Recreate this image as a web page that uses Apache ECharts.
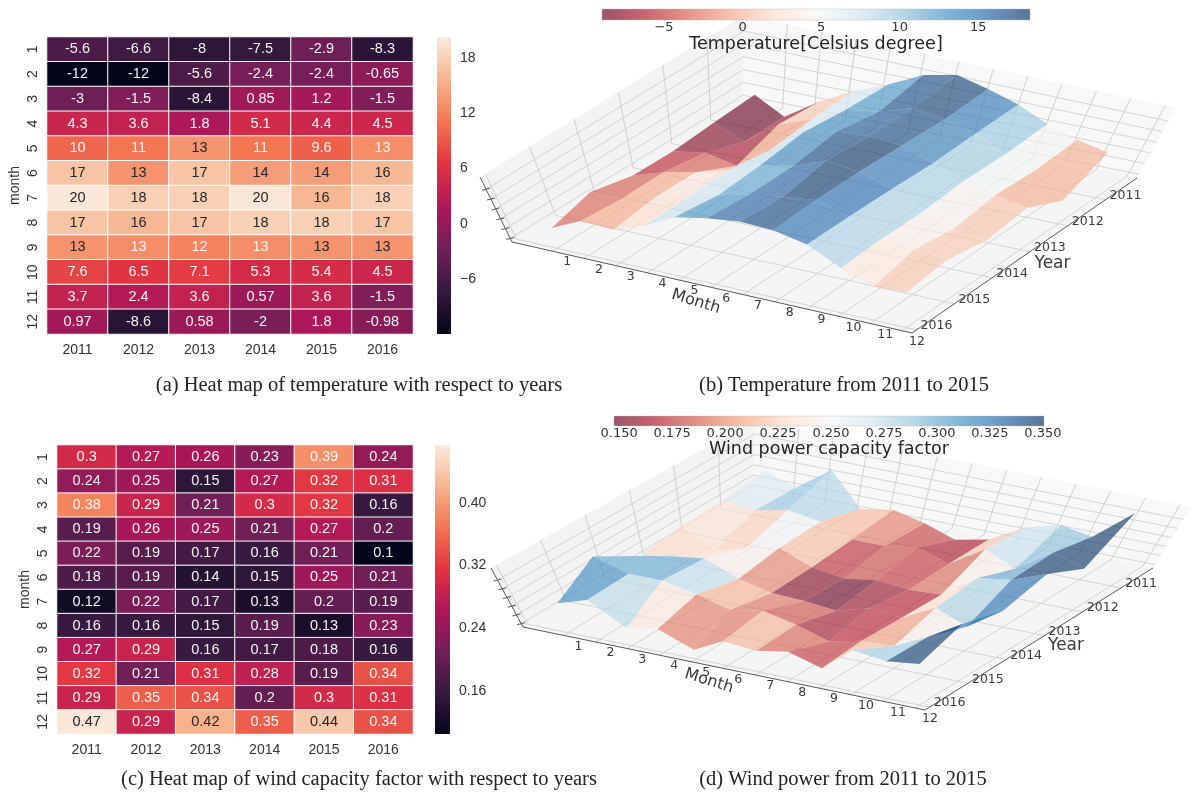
<!DOCTYPE html>
<html><head><meta charset="utf-8">
<style>html,body{margin:0;padding:0;background:#fff}#c{width:1193px;height:792px}</style>
<script src="https://cdn.jsdelivr.net/npm/echarts@6/dist/echarts.min.js"></script>
</head><body><div id="c"></div>
<script>
const months = ['1','2','3','4','5','6','7','8','9','10','11','12'];
const years = ['2011','2012','2013','2014','2015','2016'];
const temperature = [
  [-5.6,-6.6,-8,-7.5,-2.9,-8.3],
  [-12,-12,-5.6,-2.4,-2.4,-0.65],
  [-3,-1.5,-8.4,0.85,1.2,-1.5],
  [4.3,3.6,1.8,5.1,4.4,4.5],
  [10,11,13.4,11,9.6,12.8],
  [17,13.2,17,14,14,16],
  [20,18,18,20,16,18],
  [17,16,17,18,18,17],
  [13.2,12.8,12,12.8,13.2,13.2],
  [7.6,6.5,7.1,5.3,5.4,4.5],
  [3.7,2.4,3.6,0.57,3.6,-1.5],
  [0.97,-8.6,0.58,-2,1.8,-0.98]
];
const wind = [
  [0.3,0.27,0.26,0.23,0.39,0.24],
  [0.24,0.25,0.15,0.27,0.32,0.31],
  [0.38,0.29,0.21,0.3,0.32,0.16],
  [0.19,0.26,0.25,0.21,0.27,0.2],
  [0.22,0.19,0.17,0.16,0.21,0.1],
  [0.18,0.19,0.14,0.15,0.25,0.21],
  [0.12,0.22,0.17,0.13,0.2,0.19],
  [0.16,0.16,0.15,0.19,0.13,0.23],
  [0.27,0.29,0.16,0.17,0.18,0.16],
  [0.32,0.21,0.31,0.28,0.19,0.34],
  [0.29,0.35,0.34,0.2,0.3,0.31],
  [0.47,0.29,0.42,0.35,0.44,0.34]
];
const tempHeatTicks = [-6,0,6,12,18];
const windHeatTicks = [0.16,0.24,0.32,0.40];
const tempBarTicks = [-5,0,5,10,15];
const windBarTicks = [0.15,0.175,0.2,0.225,0.25,0.275,0.3,0.325,0.35];
const captions = [
  ['(a) Heat map of temperature with respect to years', 359, 386],
  ['(b) Temperature from 2011 to 2015', 844, 386],
  ['(c) Heat map of wind capacity factor with respect to years', 359, 780],
  ['(d) Wind power from 2011 to 2015', 843, 780]
];

const rocket = ['#03051a','#35193e','#701f57','#ad1759','#e13342','#f37651','#f6b48f','#faebdd'];
const rdbu = ['#67001f','#b2182b','#d6604d','#f4a582','#fddbc7','#f7f7f7','#d1e5f0','#92c5de','#4393c3','#2166ac','#053061'];
const surfAlpha = 0.62;
const sans = '"Liberation Sans",Arial,sans-serif';
const dv = '"DejaVu Sans",sans-serif';

function hex(c){return [1,3,5].map(i=>parseInt(c.substr(i,2),16));}
function ramp(stops,f){
  f=Math.max(0,Math.min(1,f))*(stops.length-1);
  const i=Math.min(stops.length-2,Math.floor(f)),a=hex(stops[i]),b=hex(stops[i+1]),k=f-i;
  return a.map((x,n)=>Math.round(x+(b[n]-x)*k));
}
const gradStops=s=>s.map((c,i)=>({offset:i/(s.length-1),color:c}));

// ---------- 3D panels: a bilinear projection of (month, year, value) ----------
const panelB = {
  data: temperature, vmin:-8.95, vmax:18.3, zMin:-19.3, zMax:13.7,
  floor:{L:[512,242],F:[912,333],R:[1137,178],B:[743,100]},
  surf:{L:[-18,-60],F:[0,-63],R:[23,-75],B:[14,-84]},
  wall:{L:[-32,-65],F:[9,-63],R:[39,-70],B:[1,-85]},
  zTicks:[-17.5,-12.5,-7.5,-2.5,2.5,7.5],
  monthTitle:[-4,17], yearTitle:[28,8]
};
const panelD = {
  data: wind, vmin:0.1476, vmax:0.3505, zMin:0.035, zMax:0.475,
  floor:{L:[523,627],F:[925,710],R:[1153,568],B:[753,489]},
  surf:{L:[-26,-63],F:[0,-59],R:[29,-76],B:[8,-78]},
  wall:{L:[-32,-59],F:[9,-55],R:[38,-61],B:[2,-69]},
  zTicks:[0.06,0.125,0.19,0.255,0.32,0.385],
  monthTitle:[-3,15], yearTitle:[27,7]
};
const uOf=m=>0.975-0.0795*(11-m);      // m = month index 0..11
const vOf=y=>0.02+0.168*(5-y);         // y = year index 0..5
function bil(q,u,v,n){return (1-v)*((1-u)*q.L[n]+u*q.F[n])+v*((1-u)*q.B[n]+u*q.R[n]);}
function proj(P,u,v,t,vec){
  return [bil(P.floor,u,v,0)+t*bil(vec,u,v,0), bil(P.floor,u,v,1)+t*bil(vec,u,v,1)];
}
function quads(P){
  const out=[];
  for(let m=0;m<11;m++)for(let y=0;y<5;y++)out.push([m,y]);
  out.sort((a,b)=>((1-uOf(a[0]))+vOf(a[1]))<((1-uOf(b[0]))+vOf(b[1]))?1:-1);
  return out;
}
function surfaceSeries(P){
  return {type:'custom',coordinateSystem:'cartesian2d',xAxisIndex:0,yAxisIndex:0,silent:true,z:3,clip:false,
    data:quads(P),
    renderItem(params,api){
      const m=api.value(0),y=api.value(1),d=P.data;
      const corners=[[m,y],[m+1,y],[m+1,y+1],[m,y+1]];
      let sum=0;
      const pts=corners.map(([a,b])=>{
        sum+=d[a][b];
        const t=(d[a][b]-P.zMin)/(P.zMax-P.zMin);
        return api.coord(proj(P,uOf(a),vOf(b),t,P.surf));
      });
      const c=ramp(rdbu,(sum/4-P.vmin)/(P.vmax-P.vmin));
      return {type:'polygon',shape:{points:pts},style:{fill:`rgba(${c[0]},${c[1]},${c[2]},${surfAlpha})`,stroke:null}};
    }};
}
function wallSeries(P){
  return {type:'custom',coordinateSystem:'cartesian2d',xAxisIndex:0,yAxisIndex:0,silent:true,z:1,clip:false,
    data:[[0,0]],
    renderItem(params,api){
      const ch=[];
      const w=(u,v,t)=>api.coord(proj(P,u,v,t,P.wall));
      const poly=(pts,fill)=>ch.push({type:'polygon',shape:{points:pts},style:{fill}});
      const line=(a,b,col,lw)=>ch.push({type:'line',shape:{x1:a[0],y1:a[1],x2:b[0],y2:b[1]},style:{stroke:col,lineWidth:lw}});
      const text=(s,p,font,rot)=>ch.push({type:'text',x:p[0],y:p[1],rotation:rot||0,
        style:{text:s,font,fill:'#3a3a3a',align:'center',verticalAlign:'middle'}});
      poly([w(0,0,0),w(1,0,0),w(1,1,0),w(0,1,0)],'#f5f5f5');
      poly([w(0,0,0),w(0,1,0),w(0,1,1),w(0,0,1)],'#f3f3f3');
      poly([w(0,1,0),w(1,1,0),w(1,1,1),w(0,1,1)],'#f8f8f8');
      const gc='#cbcbcb';
      months.forEach((_,m)=>{const u=uOf(m);line(w(u,0,0),w(u,1,0),gc,0.8);line(w(u,1,0),w(u,1,1),gc,0.9);});
      years.forEach((_,y)=>{const v=vOf(y);line(w(0,v,0),w(1,v,0),gc,0.8);line(w(0,v,0),w(0,v,1),gc,0.9);});
      P.zTicks.forEach(z=>{
        const t=(z-P.zMin)/(P.zMax-P.zMin);
        line(w(0,0,t),w(0,1,t),gc,0.8);line(w(0,1,t),w(1,1,t),gc,0.8);
        const a=w(0,0,t);line([a[0]-4,a[1]+1],[a[0]+4,a[1]-1],'#444',0.9);
      });
      const ax='#5a5a5a';
      line(w(0,0,0),w(1,0,0),ax,1);line(w(1,0,0),w(1,1,0),ax,1);line(w(0,0,0),w(0,0,1),ax,1);
      const off=(p,d)=>[p[0]+d[0],p[1]+d[1]];
      months.forEach((s,m)=>text(s,off(w(uOf(m),0,0),[15,11]),'12.5px '+dv));
      years.forEach((s,y)=>text(s,off(w(1,vOf(y),0),[20,-4]),'12.5px '+dv));
      text('Month',off(w(0.47,0,0),P.monthTitle),'16px '+dv,-0.3);
      text('Year',off(w(1,0.5,0),P.yearTitle),'17px '+dv);
      return {type:'group',children:ch};
    }};
}

// ---------- colour bars ----------
function vBar(g,min,max,stops){
  return {type:'custom',xAxisIndex:g,yAxisIndex:g,coordinateSystem:'cartesian2d',silent:true,clip:false,data:[[0,min]],
    renderItem(params,api){
      const a=api.coord([0,max]),b=api.coord([1,min]);
      return {type:'rect',shape:{x:a[0],y:a[1],width:b[0]-a[0],height:b[1]-a[1]},
        style:{fill:new echarts.graphic.LinearGradient(0,1,0,0,gradStops(stops))}};
    }};
}
function hBar(g,min,max,stops){
  return {type:'custom',xAxisIndex:g,yAxisIndex:g,coordinateSystem:'cartesian2d',silent:true,clip:false,z:8,data:[[min,0]],
    renderItem(params,api){
      const a=api.coord([min,1]),b=api.coord([max,0]);
      return {type:'group',children:[
        {type:'rect',shape:{x:a[0],y:a[1],width:b[0]-a[0],height:b[1]-a[1]},style:{fill:'#fff'}},
        {type:'rect',shape:{x:a[0],y:a[1],width:b[0]-a[0],height:b[1]-a[1]},
         style:{fill:new echarts.graphic.LinearGradient(0,0,1,0,gradStops(stops)),opacity:surfAlpha+0.05,stroke:'#bbb',lineWidth:0.6}}
      ]};
    }};
}

// ---------- heat maps ----------
function cells(d,thr){
  const out=[];
  d.forEach((row,m)=>row.forEach((v,y)=>out.push({value:[y,m,v],label:{color:v>=thr?'#262626':'#f4f4f4'}})));
  return out;
}
const fmt2=v=>String(parseFloat(v.toPrecision(2)));
function heat(g,d,thr){
  return {type:'heatmap',xAxisIndex:g,yAxisIndex:g,data:cells(d,thr),silent:true,
    label:{show:true,fontFamily:sans,fontSize:14.5,formatter:p=>fmt2(p.value[2])},
    itemStyle:{borderColor:'#fff',borderWidth:1}};
}
const catX=g=>({type:'category',gridIndex:g,data:years,axisLine:{show:false},axisTick:{show:false},splitLine:{show:false},
  axisLabel:{color:'#333',fontFamily:sans,fontSize:14,margin:9}});
const catY=(g,gap)=>({type:'category',gridIndex:g,data:months,inverse:true,axisLine:{show:false},axisTick:{show:false},splitLine:{show:false},
  name:'month',nameLocation:'middle',nameGap:gap,nameRotate:90,nameTextStyle:{color:'#333',fontFamily:sans,fontSize:14},
  axisLabel:{color:'#333',fontFamily:sans,fontSize:14,rotate:90,margin:14,align:'center',verticalAlign:'middle'}});
const hidden=(g,extra)=>Object.assign({type:'value',gridIndex:g,min:0,max:1,show:false},extra||{});
const minusFmt=v=>String(v).replace('-','\u2212');
const barY=(g,min,max,ticks,f)=>({type:'value',gridIndex:g,min,max,position:'right',splitLine:{show:false},axisLine:{show:false},
  axisTick:{show:true,length:6,customValues:ticks,lineStyle:{color:'#333',width:1}},
  axisLabel:{color:'#333',fontFamily:sans,fontSize:14,margin:9,customValues:ticks,formatter:f}});
const barX=(g,min,max,ticks,f,name,size,gap)=>({type:'value',gridIndex:g,z:10,min,max,position:'bottom',splitLine:{show:false},axisLine:{show:false},
  axisTick:{show:false},name,nameLocation:'middle',nameGap:gap,nameTextStyle:{color:'#222',fontFamily:dv,fontSize:size},
  axisLabel:{color:'#333',fontFamily:dv,fontSize:13,margin:1,customValues:ticks,formatter:f}});

const option={
  animation:false,backgroundColor:'#fff',
  grid:[
    {left:0,top:0,width:1193,height:792},
    {left:47,top:37,width:366,height:297},
    {left:437,top:37,width:14,height:297},
    {left:57,top:445,width:356,height:289},
    {left:435,top:445,width:15,height:289},
    {left:602,top:9,width:428,height:11},
    {left:614,top:416,width:430,height:10}
  ],
  xAxis:[
    {type:'value',gridIndex:0,min:0,max:1193,show:false},
    catX(1),hidden(2),catX(3),hidden(4),
    barX(5,-8.95,18.3,tempBarTicks,minusFmt,'Temperature[Celsius degree]',17.5,15),
    barX(6,0.1476,0.3505,windBarTicks,v=>v.toFixed(3),'Wind power capacity factor',17.5,12)
  ],
  yAxis:[
    {type:'value',gridIndex:0,min:0,max:792,inverse:true,show:false},
    catY(1,25),barY(2,-12,20.3,tempHeatTicks,minusFmt),
    catY(3,25),barY(4,0.105,0.474,windHeatTicks,v=>v.toFixed(2)),
    hidden(5),hidden(6)
  ],
  visualMap:[
    {show:false,type:'continuous',seriesIndex:0,dimension:2,min:-12,max:20.3,inRange:{color:rocket}},
    {show:false,type:'continuous',seriesIndex:1,dimension:2,min:0.105,max:0.474,inRange:{color:rocket}}
  ],
  series:[
    heat(1,temperature,13),heat(3,wind,0.4),
    vBar(2,-12,20.3,rocket),vBar(4,0.105,0.474,rocket),
    wallSeries(panelB),surfaceSeries(panelB),
    wallSeries(panelD),surfaceSeries(panelD),
    hBar(5,-8.95,18.3,rdbu),hBar(6,0.1476,0.3505,rdbu)
  ],
  graphic:captions.map(c=>({type:'text',x:c[1],y:c[2],z:20,
    style:{text:c[0],font:'20.5px "Liberation Serif",serif',fill:'#222',align:'center',verticalAlign:'middle'}}))
};
const chart=echarts.init(document.getElementById('c'),null,{renderer:'canvas'});
chart.setOption(option);
</script></body></html>
